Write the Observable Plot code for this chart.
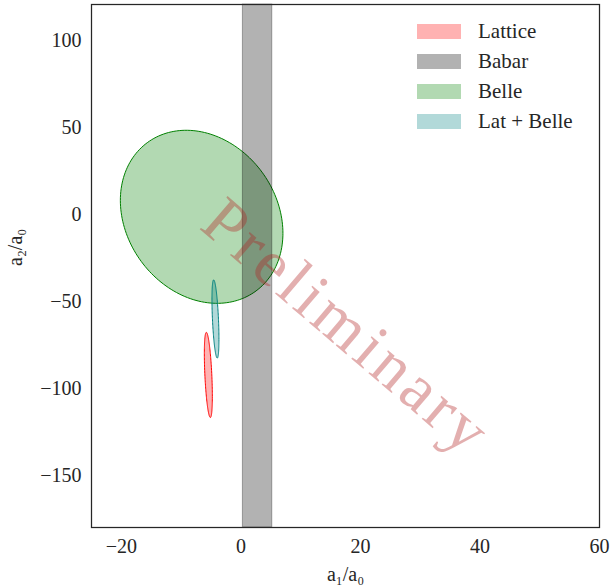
<!DOCTYPE html>
<html>
<head>
<meta charset="utf-8">
<script src="https://cdn.jsdelivr.net/npm/d3@7"></script>
<script src="https://cdn.jsdelivr.net/npm/@observablehq/plot@0.6"></script>
<style>
  html, body { margin: 0; padding: 0; background: #fff; }
  #wrap { position: relative; width: 610px; height: 588px; font-family: "Liberation Serif", serif; color: #262626; }
  .lg-row { position: absolute; display: flex; align-items: center; }
  .lg-patch { width: 44px; height: 15px; }
  .lg-label { margin-left: 17px; font-size: 21px; line-height: 21px; white-space: nowrap; }
</style>
</head>
<body>
<div id="wrap"></div>
<script>
// ---- data ----
const xDomain = [-25, 60];
const yDomain = [-180, 121];
const xTicks = [-20, 0, 20, 40, 60];
const yTicks = [-150, -100, -50, 0, 50, 100];

const ellipseNames = ["Belle", "Lattice", "Lat + Belle"];
const ellipseCx = [-6.57, -5.45, -4.26];
const ellipseCy = [-1.19, -92.2, -60.0];
const ellipseSx = [13.6, 0.67, 0.585];
const ellipseSy = [49.8, 24.5, 22.5];
const ellipseRho = [-0.19, -0.5, -0.51];
const ellipseColors = ["green", "red", "teal"];

const babarName = "Babar";
const babarLo = 0.33;
const babarHi = 5.25;

const legendLabels = ["Lattice", "Babar", "Belle", "Lat + Belle"];
const legendColors = ["rgba(255,0,0,0.3)", "rgba(0,0,0,0.3)", "rgba(0,128,0,0.3)", "rgba(0,128,128,0.3)"];

const watermarkText = "Preliminary";
const watermarkX = 17.5;
const watermarkY = -64;

const xLabel = "a₁/a₀";
const yLabel = "a₂/a₀";

// ---- ellipse outlines from centre / half-widths / correlation ----
const ellipsePts = [];
ellipseNames.forEach((name, i) => {
  const r = ellipseRho[i], s = Math.sqrt(1 - r * r);
  for (let k = 0; k < 360; k += 2) {
    const t = k * Math.PI / 180;
    ellipsePts.push({
      name,
      x: ellipseCx[i] + ellipseSx[i] * Math.cos(t),
      y: ellipseCy[i] + ellipseSy[i] * (r * Math.cos(t) + s * Math.sin(t))
    });
  }
});

const ellipseMarks = ellipseNames.map((name, i) =>
  Plot.line(ellipsePts.filter(d => d.name === name), {
    x: "x", y: "y", curve: "linear-closed",
    fill: ellipseColors[i], fillOpacity: 0.3,
    stroke: ellipseColors[i], strokeWidth: 1
  })
);

const plot = Plot.plot({
  width: 610,
  height: 588,
  marginLeft: 91,
  marginRight: 11,
  marginTop: 4,
  marginBottom: 61,
  style: { fontFamily: "Liberation Serif, serif", fontSize: "20px", color: "#262626", background: "white" },
  x: { domain: xDomain },
  y: { domain: yDomain },
  marks: [
    ...ellipseMarks,
    Plot.rect([{ lo: babarLo, hi: babarHi, name: babarName }], {
      x1: "lo", x2: "hi", fill: "black", fillOpacity: 0.3, stroke: "black", strokeOpacity: 0.3, strokeWidth: 1
    }),
    Plot.text([{ x: watermarkX, y: watermarkY, t: watermarkText }], {
      x: "x", y: "y", text: "t", rotate: 40.5, fontSize: 66,
      fontFamily: "Liberation Serif, serif", fill: "#b22222", fillOpacity: 0.36,
      textAnchor: "middle", lineAnchor: "middle", className: "watermark"
    }),
    Plot.axisX({ ticks: xTicks, tickSize: 0, tickPadding: 11, fontSize: 20, label: null }),
    Plot.axisY({ ticks: yTicks, tickSize: 0, tickPadding: 10, fontSize: 20, label: null }),
    Plot.text([xLabel], { text: d => d, frameAnchor: "bottom", dy: 47, fontSize: 20, lineAnchor: "middle", fill: "#262626" }),
    Plot.text([yLabel], { text: d => d, frameAnchor: "left", dx: -76, rotate: -90, fontSize: 20, lineAnchor: "middle", fill: "#262626" }),
    Plot.frame({ stroke: "#262626", strokeWidth: 1.25 })
  ]
});

d3.select(plot).selectAll("g.watermark text")
  .attr("textLength", 352)
  .attr("lengthAdjust", "spacing");

const wrap = document.getElementById("wrap");
wrap.appendChild(plot);

legendLabels.forEach((lab, i) => {
  const row = document.createElement("div");
  row.className = "lg-row";
  row.style.left = "417px";
  row.style.top = (24 + i * 30) + "px";
  row.style.height = "15px";
  const p = document.createElement("div");
  p.className = "lg-patch";
  p.style.background = legendColors[i];
  const t = document.createElement("span");
  t.className = "lg-label";
  t.textContent = lab;
  row.appendChild(p);
  row.appendChild(t);
  wrap.appendChild(row);
});
</script>
</body>
</html>
